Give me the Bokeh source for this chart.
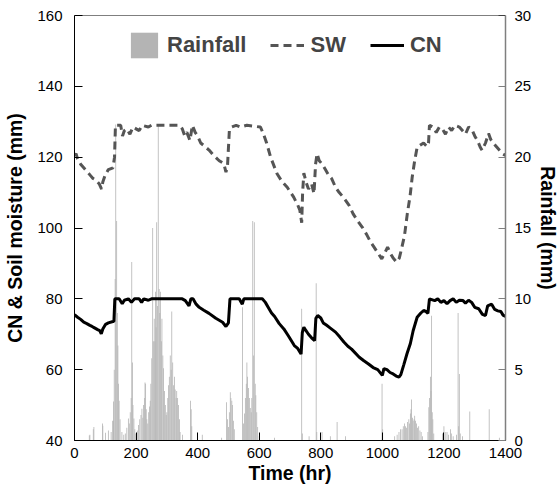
from bokeh.plotting import figure
from bokeh.models import (Range1d, LinearAxis, SingleIntervalTicker, Legend, LegendItem, Span,
                          ColumnDataSource, Title)
from bokeh.embed import file_html
from bokeh.resources import INLINE

# ---------------- data ----------------
cn_hr = [0, 10, 20, 30, 40, 50, 57, 65, 75, 82, 87, 92, 101, 110, 125, 128, 131, 145, 155, 162, 175, 185, 195,
         210, 218, 225, 240, 250, 265, 350, 360, 372, 378, 385, 395, 405, 420, 437, 459, 481, 492, 500, 505,
         535, 545, 550, 610, 620, 630, 640, 650, 665, 680, 695, 714, 725, 736, 740, 745, 752, 760, 770, 780,
         784, 790, 800, 808, 818, 830, 848, 862, 875, 888, 900, 925, 940, 955, 970, 985, 1000, 1005, 1015,
         1025, 1035, 1045, 1054, 1060, 1070, 1080, 1091, 1100, 1113, 1125, 1134, 1140, 1148, 1153, 1170,
         1180, 1190, 1200, 1210, 1220, 1230, 1240, 1250, 1262, 1270, 1280, 1290, 1300, 1313, 1325, 1335,
         1342, 1355, 1365, 1375, 1385, 1392, 1400]
cn_val = [75.5, 74.8, 74.2, 73.4, 73.0, 72.5, 72.2, 71.8, 71.3, 71.0, 70.1, 71.5, 72.8, 73.2, 73.6, 73.6, 80.0,
          80.0, 78.6, 79.6, 80.0, 79.0, 80.0, 80.0, 79.0, 80.0, 79.6, 80.0, 80.0, 80.0, 79.5, 78.0, 80.0, 80.0,
          78.5, 77.6, 76.8, 75.9, 74.5, 73.4, 72.2, 73.2, 80.0, 80.0, 78.5, 80.0, 80.0, 79.0, 77.5, 76.0, 75.0,
          73.0, 71.5, 69.5, 66.8, 66.0, 64.4, 70.5, 72.0, 71.0, 70.0, 69.0, 68.2, 74.5, 75.3, 74.6, 73.2, 72.6,
          71.8, 70.6, 69.2, 67.8, 66.6, 65.8, 63.5, 62.5, 61.6, 60.6, 60.0, 58.4, 60.3, 60.0, 59.2, 58.8, 58.2,
          57.9, 58.6, 61.5, 64.5, 67.4, 71.0, 74.8, 76.0, 76.7, 76.5, 75.9, 80.0, 79.5, 80.0, 79.0, 79.5, 78.6,
          79.5, 80.0, 79.0, 79.6, 79.5, 78.8, 79.6, 79.0, 77.6, 77.2, 75.6, 75.3, 78.0, 78.5, 77.0, 76.6, 76.4,
          75.4, 75.0]

sw_hr = [0, 5, 10, 20, 30, 40, 50, 60, 70, 80, 88, 92, 100, 110, 125, 130, 133, 150, 156, 162, 170, 180, 190,
         200, 210, 220, 240, 250, 270, 340, 350, 358, 365, 375, 383, 392, 400, 410, 420, 437, 452, 470, 485,
         492, 497, 503, 510, 525, 540, 560, 604, 614, 624, 637, 658, 675, 691, 712, 725, 732, 738, 741, 745,
         752, 760, 770, 778, 783, 788, 795, 805, 815, 825, 835, 848, 860, 875, 892, 905, 920, 935, 950, 962,
         973, 985, 998, 1008, 1017, 1025, 1035, 1046, 1055, 1062, 1072, 1081, 1090, 1097, 1105, 1113, 1125,
         1134, 1145, 1150, 1153, 1165, 1175, 1185, 1195, 1205, 1215, 1225, 1235, 1250, 1260, 1270, 1280,
         1290, 1300, 1310, 1318, 1324, 1335, 1345, 1352, 1360, 1370, 1380, 1390, 1400]
sw_val = [120.5, 121.0, 119.5, 118.0, 117.0, 116.0, 115.0, 114.0, 113.5, 112.5, 111.0, 113.0, 115.0, 116.5,
          117.0, 120.0, 129.0, 129.0, 126.0, 127.5, 128.0, 126.5, 128.5, 128.0, 127.5, 129.0, 128.5, 129.0,
          129.0, 129.0, 128.0, 126.0, 127.0, 124.7, 129.0, 127.0, 126.0, 124.0, 123.3, 122.0, 120.5, 119.0,
          118.2, 115.8, 117.5, 127.5, 128.5, 129.0, 128.5, 129.0, 128.5, 126.5, 124.0, 120.0, 115.3, 113.0,
          111.5, 108.7, 106.5, 105.0, 101.5, 110.0, 115.5, 113.0, 111.0, 112.5, 109.7, 118.0, 121.0, 119.0,
          118.0, 116.5, 115.0, 114.0, 111.5, 110.0, 108.5, 106.4, 104.0, 102.0, 100.2, 98.0, 96.0, 94.6, 93.0,
          91.3, 93.0, 94.6, 93.0, 91.5, 90.4, 91.5, 94.0, 97.9, 104.0, 109.0, 114.4, 119.0, 122.8, 123.5, 124.0,
          123.0, 124.0, 129.0, 128.5, 127.0, 128.5, 128.0, 126.5, 128.5, 127.5, 129.0, 128.5, 127.5, 126.5,
          128.5, 128.0, 126.0, 124.5, 122.8, 121.9, 124.0, 126.7, 125.0, 124.0, 123.0, 122.0, 121.0, 120.5]

rain_hr = [48, 50, 61, 63, 91, 92, 101, 110, 119, 124, 126, 127, 129, 132, 134, 137, 139, 141, 143, 145, 148,
           154, 160, 165, 170, 175, 178, 181, 184, 186, 188, 190, 193, 196, 199, 204, 208, 212, 216, 219, 222,
           224, 227, 229, 231, 233, 235, 238, 241, 244, 246, 248, 251, 254, 256, 259, 261, 263, 265, 267, 270,
           272, 275, 277, 279, 282, 284, 287, 289, 292, 295, 298, 300, 303, 305, 308, 311, 314, 316, 319, 322,
           325, 327, 330, 332, 335, 338, 341, 343, 351,
           377, 379, 381, 415, 478, 494, 497, 500, 503, 506, 508, 511, 513, 516, 519, 546, 549, 552, 555, 558,
           560, 562, 565, 568, 571, 574, 576, 579, 582, 584, 587, 589, 592, 595, 600, 650,
           738, 740, 762, 785, 787, 804, 831, 853, 880, 999, 1001,
           1040, 1048, 1054, 1059, 1064, 1068, 1072, 1075, 1078, 1082, 1086, 1088, 1091, 1093, 1095, 1098, 1100,
           1103, 1105, 1108, 1111, 1114, 1118, 1122, 1126, 1130, 1148, 1151, 1153, 1156, 1158, 1160, 1162, 1164,
           1167, 1195, 1200, 1204, 1210, 1215, 1221, 1224, 1230, 1241, 1246, 1248, 1250, 1253, 1260, 1284, 1347,
           1380]
rain_mm = [0.35, 0.4, 0.8, 0.95, 1.2, 1.05, 0.55, 0.7, 0.6, 1.4, 1.4, 2.75, 5.0, 11.4, 22.3, 15.5, 9.0, 6.7,
           4.0, 2.8, 1.5, 0.6, 0.4, 0.5, 0.9, 1.55, 1.2, 2.0, 3.0, 12.6, 5.5, 2.5, 1.55, 0.8, 0.5, 0.7, 1.1,
           1.5, 1.8, 2.25, 1.6, 2.5, 3.0, 4.1, 4.0, 2.2, 1.5, 1.2, 2.0, 2.4, 2.8, 4.0, 5.8, 15.0, 7.0, 8.6, 7.0,
           10.5, 8.0, 15.4, 9.5, 22.3, 10.7, 9.0, 10.5, 7.0, 8.6, 6.0, 5.1, 3.5, 2.5, 1.8, 2.0, 3.0, 3.9, 4.5,
           6.0, 5.0, 9.1, 5.5, 3.9, 4.5, 3.6, 3.0, 3.5, 3.0, 2.5, 1.5, 0.6, 0.4,
           2.8, 2.2, 1.0, 0.4, 0.2, 2.7, 1.5, 0.95, 2.0, 3.4, 3.0, 2.8, 2.5, 1.4, 0.8, 9.4, 1.2, 1.9, 3.0, 4.0,
           5.5, 4.5, 3.7, 3.0, 2.3, 2.0, 3.0, 15.5, 6.0, 15.4, 4.0, 3.2, 2.0, 0.95, 0.3, 0.2,
           9.3, 0.5, 0.3, 11.1, 0.6, 0.6, 0.3, 1.3, 0.3, 4.0, 0.8,
           0.3, 0.4, 0.6, 0.8, 0.8, 1.0, 1.2, 1.0, 0.9, 1.3, 1.5, 1.2, 1.9, 2.2, 2.9, 1.6, 1.4, 1.5, 1.75, 1.4,
           1.2, 0.9, 1.0, 0.7, 0.6, 0.3, 0.6, 2.35, 3.0, 4.5, 3.5, 8.8, 2.0, 1.5, 0.5, 0.5, 1.0, 0.6, 0.6, 0.4,
           0.8, 0.5, 0.3, 0.4, 9.0, 1.0, 4.7, 0.5, 0.3, 2.05, 2.2, 0.2]

x_ticks_interval = 200
left_range = (40, 160)
right_range = (0, 30)
x_range = (0, 1400)

FONT = "Liberation Sans"

p = figure(width=558, height=486, output_backend="svg", toolbar_location=None,
           x_range=Range1d(*x_range), y_range=Range1d(*left_range),
           min_border_left=74, min_border_right=53, min_border_top=15, min_border_bottom=46)
p.outline_line_color = None
p.grid.visible = False
p.background_fill_color = "white"
p.border_fill_color = "white"

p.extra_y_ranges = {"rain": Range1d(*right_range)}

# rainfall bars
rain_src = ColumnDataSource(dict(x=rain_hr, top=rain_mm))
r_rain = p.vbar(x="x", top="top", bottom=0, width=2.6, source=rain_src, y_range_name="rain",
                fill_color="#b4b4b4", line_color=None)
r_sw = p.line(sw_hr, sw_val, line_color="#555555", line_width=3, line_dash="8 5")
r_cn = p.line(cn_hr, cn_val, line_color="black", line_width=3)

# axes
def style_axis(ax, color="black", tick_len=8):
    ax.axis_line_color = color
    ax.major_tick_line_color = color
    ax.major_tick_in = tick_len
    ax.major_tick_out = 0
    ax.minor_tick_line_color = None
    ax.major_label_text_font = FONT
    ax.major_label_text_font_size = "15px"
    ax.major_label_text_color = "black"
    ax.axis_label_text_font = FONT
    ax.axis_label_text_font_style = "bold"
    ax.axis_label_text_font_size = "19.5px"
    ax.axis_label_text_color = "black"

xa = p.xaxis[0]
xa.ticker = SingleIntervalTicker(interval=x_ticks_interval)
style_axis(xa)
xa.axis_label = "Time (hr)"
xa.major_label_standoff = 3
xa.axis_label_standoff = 1

ya = p.yaxis[0]
ya.ticker = SingleIntervalTicker(interval=20)
style_axis(ya)
ya.axis_label = "CN & Soil moisture (mm)"
ya.major_label_standoff = 8
ya.axis_label_standoff = 8

ra = LinearAxis(y_range_name="rain", ticker=SingleIntervalTicker(interval=5))
style_axis(ra, color="#7f7f7f", tick_len=7)
ra.axis_line_width = 1.5
ra.major_label_standoff = 5
ra.axis_label_standoff = 0
p.add_layout(ra, "right")

# right-hand axis title as a side title (outside the tick labels)
p.add_layout(Title(text="Rainfall (mm)", align="center", vertical_align="top", standoff=0,
                   text_font=FONT, text_font_style="bold", text_font_size="19.5px",
                   text_color="black"), "right")

p.add_layout(Span(location=left_range[1], dimension="width", line_color="black", line_width=1))

legend = Legend(items=[LegendItem(label="Rainfall", renderers=[r_rain]),
                       LegendItem(label="SW", renderers=[r_sw]),
                       LegendItem(label="CN", renderers=[r_cn])],
                orientation="horizontal", location=(53, 379),
                border_line_color=None, background_fill_alpha=0,
                label_text_font=FONT, label_text_font_style="bold", label_text_font_size="22px",
                glyph_width=34, glyph_height=32, label_standoff=6, spacing=24, padding=0, margin=0)
legend.label_height = 32
p.add_layout(legend)

open("out.html", "w").write(file_html(p, INLINE))
